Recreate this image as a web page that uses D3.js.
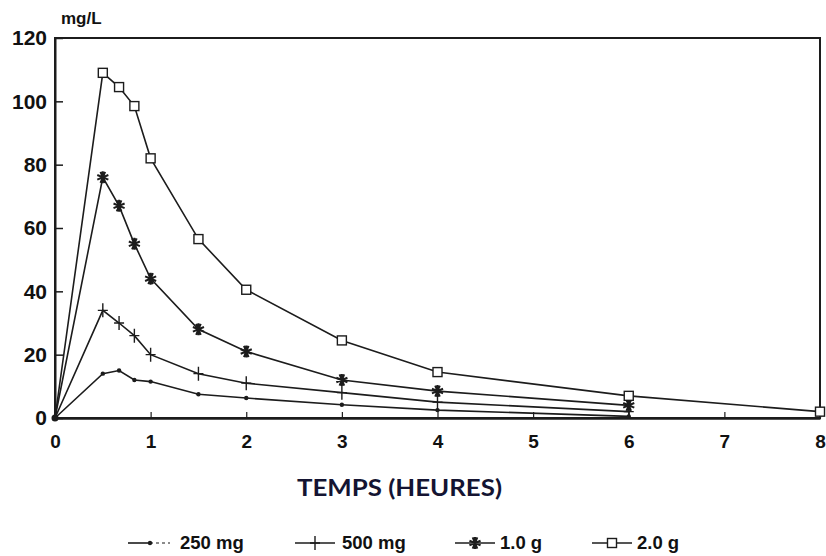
<!DOCTYPE html>
<html>
<head>
<meta charset="utf-8">
<script src="https://cdn.jsdelivr.net/npm/d3@7"></script>
<style>
  html, body { margin: 0; padding: 0; background: #fff; }
  svg { display: block; }
</style>
</head>
<body>
<svg id="chart" width="826" height="556"></svg>
<script>
// ---- data ----
const times = [0, 0.5, 0.67, 0.83, 1, 1.5, 2, 3, 4, 6];
const times2g = [0, 0.5, 0.67, 0.83, 1, 1.5, 2, 3, 4, 6, 8];
const dose250 = [0, 14, 15, 12, 11.5, 7.5, 6.3, 4.2, 2.5, 0.5];
const dose500 = [0, 34, 30, 26, 20, 14, 11, 8, 5, 2];
const dose1g = [0, 76, 67, 55, 44, 28, 21, 12, 8.5, 4];
const dose2g = [0, 109, 104.5, 98.5, 82, 56.5, 40.5, 24.5, 14.5, 7, 2];
const seriesNames = ["250 mg", "500 mg", "1.0 g", "2.0 g"];
const xTicks = [0, 1, 2, 3, 4, 5, 6, 7, 8];
const yTicks = [0, 20, 40, 60, 80, 100, 120];
const yUnit = "mg/L";
const xTitle = "TEMPS (HEURES)";

const series = [
  { name: seriesNames[0], t: times, v: dose250, marker: "dot" },
  { name: seriesNames[1], t: times, v: dose500, marker: "plus" },
  { name: seriesNames[2], t: times, v: dose1g, marker: "star" },
  { name: seriesNames[3], t: times2g, v: dose2g, marker: "square" }
];

const svg = d3.select("#chart");
const L = 55, R = 820, T = 38, B = 418;
const x = d3.scaleLinear().domain([0, 8]).range([L, R]);
const y = d3.scaleLinear().domain([0, 120]).range([B, T]);
const ink = "#1c1c1c";
const tickFont = "'Liberation Sans', Arial, sans-serif";

// frame
svg.append("rect").attr("x", L).attr("y", T).attr("width", R - L).attr("height", B - T)
  .attr("fill", "none").attr("stroke", ink).attr("stroke-width", 2);

// axes
const yAxis = svg.append("g").attr("transform", `translate(${L},0)`)
  .call(d3.axisLeft(y).tickValues(yTicks).tickSizeInner(-8).tickSizeOuter(0).tickPadding(8));
yAxis.select(".domain").attr("stroke", ink).attr("stroke-width", 2);
yAxis.selectAll(".tick line").attr("stroke", ink).attr("stroke-width", 1.5);
yAxis.selectAll("text").attr("font-family", tickFont).attr("font-weight", "bold")
  .attr("font-size", 21).attr("fill", "#111");

const xAxis = svg.append("g").attr("transform", `translate(0,${B})`)
  .call(d3.axisBottom(x).tickValues(xTicks).tickFormat(d3.format("d")).tickSizeInner(-6).tickSizeOuter(0).tickPadding(17));
xAxis.select(".domain").attr("stroke", ink).attr("stroke-width", 2.5);
xAxis.selectAll(".tick line").attr("stroke", ink).attr("stroke-width", 1.2);
xAxis.selectAll("text").attr("font-family", tickFont).attr("font-weight", "bold")
  .attr("font-size", 19).attr("fill", "#111");

// unit label
svg.append("text").attr("x", L + 6).attr("y", 24).text(yUnit)
  .attr("font-family", tickFont).attr("font-weight", "bold").attr("font-size", 17).attr("fill", "#111");

// x title
svg.append("text").attr("x", 297).attr("y", 496).text(xTitle)
  .attr("textLength", 205).attr("lengthAdjust", "spacingAndGlyphs")
  .attr("font-family", "Lato, 'Open Sans', sans-serif").attr("font-weight", "bold")
  .attr("font-size", 23).attr("fill", "#141432");

// markers
function drawMarker(g, kind, cx, cy) {
  if (kind === "dot") {
    g.append("circle").attr("cx", cx).attr("cy", cy).attr("r", 2.2).attr("fill", ink);
  } else if (kind === "plus") {
    g.append("path").attr("d", `M${cx - 5},${cy}H${cx + 5}M${cx},${cy - 7}V${cy + 7}`)
      .attr("stroke", ink).attr("stroke-width", 1.4).attr("fill", "none");
  } else if (kind === "star") {
    const r = 6;
    let d = "";
    for (let i = 0; i < 4; i++) {
      const a = Math.PI / 4 * i + Math.PI / 8;
      d += `M${cx - r * Math.cos(a)},${cy - r * Math.sin(a)}L${cx + r * Math.cos(a)},${cy + r * Math.sin(a)}`;
    }
    d += `M${cx},${cy - r}V${cy + r}`;
    g.append("path").attr("d", d).attr("stroke", ink).attr("stroke-width", 2).attr("fill", "none");
  } else if (kind === "square") {
    g.append("rect").attr("x", cx - 4.5).attr("y", cy - 4.5).attr("width", 9).attr("height", 9)
      .attr("fill", "#fff").attr("stroke", ink).attr("stroke-width", 1.4);
  }
}

const line = d3.line().x(d => x(d[0])).y(d => y(d[1]));
series.forEach(s => {
  const pts = s.t.map((t, i) => [t, s.v[i]]);
  svg.append("path").datum(pts).attr("d", line).attr("fill", "none")
    .attr("stroke", ink).attr("stroke-width", 1.6);
  const g = svg.append("g");
  pts.slice(1).forEach(p => drawMarker(g, s.marker, x(p[0]), y(p[1])));
});
// origin blob
svg.append("circle").attr("cx", x(0)).attr("cy", y(0)).attr("r", 3.5).attr("fill", ink);

// legend
const legendItems = [
  { lx: 128, tx: 180 },
  { lx: 295, tx: 342 },
  { lx: 455, tx: 500 },
  { lx: 592, tx: 637 }
];
const ly = 543;
series.forEach((s, i) => {
  const it = legendItems[i];
  const g = svg.append("g");
  if (i === 0) {
    g.append("line").attr("x1", it.lx).attr("x2", it.lx + 22).attr("y1", ly).attr("y2", ly)
      .attr("stroke", ink).attr("stroke-width", 1.6);
    g.append("line").attr("x1", it.lx + 22).attr("x2", it.lx + 42).attr("y1", ly).attr("y2", ly)
      .attr("stroke", "#666").attr("stroke-width", 1.6).attr("stroke-dasharray", "3,3");
    drawMarker(g, "dot", it.lx + 22, ly);
  } else {
    g.append("line").attr("x1", it.lx).attr("x2", it.lx + 40).attr("y1", ly).attr("y2", ly)
      .attr("stroke", ink).attr("stroke-width", 1.6);
    drawMarker(g, s.marker, it.lx + 20, ly);
  }
  g.append("text").attr("x", it.tx).attr("y", ly + 6).text(s.name)
    .attr("font-family", tickFont).attr("font-weight", "bold").attr("font-size", 18.5).attr("fill", "#111");
});
</script>
</body>
</html>
